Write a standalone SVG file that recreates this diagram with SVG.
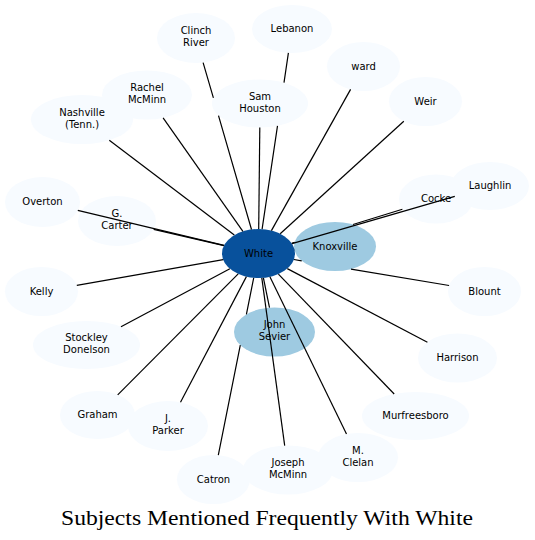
<svg xmlns="http://www.w3.org/2000/svg" width="535" height="540" viewBox="0 0 535 540">
<style>
.n{fill:#f7fbff}
.k{fill:#9ecae1}
.c{fill:#08519c}
text{font-family:"DejaVu Sans","Noto Sans",sans-serif;font-size:10px;fill:#000;text-anchor:middle}
.t{font-family:"Liberation Serif","DejaVu Serif",serif;font-size:21px}
#edges path{fill:none;stroke:#000;stroke-width:1.2}
</style>
<rect width="535" height="540" fill="#fff"/>
<g id="nodes">
<g id="n-nashville"><ellipse class="n" cx="82" cy="119.5" rx="51" ry="24.5"/><text x="82" y="115.5">Nashville</text><text x="82" y="127.5">(Tenn.)</text></g>
<g id="n-rachel-mcminn"><ellipse class="n" cx="147" cy="95" rx="45" ry="24.5"/><text x="147" y="91">Rachel</text><text x="147" y="103">McMinn</text></g>
<g id="n-clinch-river"><ellipse class="n" cx="196" cy="38" rx="39" ry="25"/><text x="196" y="34">Clinch</text><text x="196" y="46">River</text></g>
<g id="n-lebanon"><ellipse class="n" cx="292" cy="29" rx="40" ry="24"/><text x="292" y="32.2">Lebanon</text></g>
<g id="n-sam-houston"><ellipse class="n" cx="260" cy="103.5" rx="48" ry="24"/><text x="260" y="99.5">Sam</text><text x="260" y="111.5">Houston</text></g>
<g id="n-ward"><ellipse class="n" cx="363.5" cy="66.5" rx="36.5" ry="24.5"/><text x="363.5" y="69.7">ward</text></g>
<g id="n-weir"><ellipse class="n" cx="425.5" cy="101.5" rx="36.5" ry="24.5"/><text x="425.5" y="104.7">Weir</text></g>
<g id="n-cocke"><ellipse class="n" cx="436" cy="199" rx="37" ry="24.5"/><text x="436" y="202.2">Cocke</text></g>
<g id="n-laughlin"><ellipse class="n" cx="490" cy="186" rx="39" ry="24"/><text x="490" y="189.2">Laughlin</text></g>
<g id="n-knoxville"><ellipse class="k" cx="335" cy="246.5" rx="41" ry="24.5"/><text x="335" y="249.7">Knoxville</text></g>
<g id="n-blount"><ellipse class="n" cx="484.5" cy="291.5" rx="36.5" ry="24.5"/><text x="484.5" y="294.7">Blount</text></g>
<g id="n-harrison"><ellipse class="n" cx="457.5" cy="358" rx="39.5" ry="24.5"/><text x="457.5" y="361.2">Harrison</text></g>
<g id="n-murfreesboro"><ellipse class="n" cx="415.5" cy="416" rx="53.5" ry="24"/><text x="415.5" y="419.2">Murfreesboro</text></g>
<g id="n-joseph-mcminn"><ellipse class="n" cx="288" cy="470" rx="45" ry="24.5"/><text x="288" y="466">Joseph</text><text x="288" y="478">McMinn</text></g>
<g id="n-m-clelan"><ellipse class="n" cx="358" cy="457.5" rx="40" ry="24.5"/><text x="358" y="453.5">M.</text><text x="358" y="465.5">Clelan</text></g>
<g id="n-catron"><ellipse class="n" cx="213.5" cy="479.5" rx="36.5" ry="24.5"/><text x="213.5" y="482.7">Catron</text></g>
<g id="n-graham"><ellipse class="n" cx="97.5" cy="415" rx="37.5" ry="24"/><text x="97.5" y="418.2">Graham</text></g>
<g id="n-j-parker"><ellipse class="n" cx="168" cy="426" rx="40" ry="25"/><text x="168" y="422">J.</text><text x="168" y="434">Parker</text></g>
<g id="n-john-sevier"><ellipse class="k" cx="274.5" cy="332" rx="40.5" ry="24.5"/><text x="274.5" y="328">John</text><text x="274.5" y="340">Sevier</text></g>
<g id="n-stockley-donelson"><ellipse class="n" cx="86.5" cy="345" rx="53.5" ry="24"/><text x="86.5" y="341">Stockley</text><text x="86.5" y="353">Donelson</text></g>
<g id="n-kelly"><ellipse class="n" cx="41.5" cy="291.5" rx="36.5" ry="24.5"/><text x="41.5" y="294.7">Kelly</text></g>
<g id="n-overton"><ellipse class="n" cx="42.5" cy="202" rx="37.5" ry="25"/><text x="42.5" y="205.2">Overton</text></g>
<g id="n-g-carter"><ellipse class="n" cx="117" cy="221" rx="39" ry="25"/><text x="117" y="217">G.</text><text x="117" y="229">Carter</text></g>
<g id="n-white"><ellipse class="c" cx="258.5" cy="253.5" rx="36.5" ry="24.5"/><text x="258.5" y="256.7">White</text></g>
</g>
<g id="edges">
<path d="M203.1,62.6L213.4,97.8M218.5,115.6L251.5,229.5"/>
<path d="M163.1,117.9L242.9,231.3"/>
<path d="M109.3,140.2L234.3,235.1"/>
<path d="M288.4,52.9L284.0,82.7M277.5,125.8L262.1,229.1"/>
<path d="M259.8,127.5L258.7,229.0"/>
<path d="M350.6,89.4L271.4,230.6"/>
<path d="M403.8,121.2L280.2,233.8"/>
<path d="M454.8,196.3L292.0,243.7"/>
<path d="M291.7,243.3L294.6,242.4M353.0,224.5L402.4,209.3"/>
<path d="M294.7,250.2L294.5,250.2"/>
<path d="M293.9,259.5L301.7,260.8M351.0,269.1L449.1,285.5"/>
<path d="M287.3,268.6L427.4,342.2"/>
<path d="M278.4,274.1L394.2,394.0"/>
<path d="M269.9,276.8L346.5,434.0"/>
<path d="M261.8,277.9L284.7,445.6"/>
<path d="M253.7,277.8L246.4,314.4M240.3,345.1L218.3,455.2"/>
<path d="M263.4,277.8L269.5,307.7"/>
<path d="M246.4,276.6L180.5,402.2"/>
<path d="M238.2,273.9L117.7,394.8"/>
<path d="M229.9,268.7L121.0,326.7"/>
<path d="M223.2,259.7L76.8,285.3"/>
<path d="M224.1,245.3L77.8,210.4"/>
<path d="M224.0,245.6L153.7,229.4"/>
</g>
<text class="t" x="267" y="524.5" textLength="412" lengthAdjust="spacingAndGlyphs">Subjects Mentioned Frequently With White</text>
</svg>
